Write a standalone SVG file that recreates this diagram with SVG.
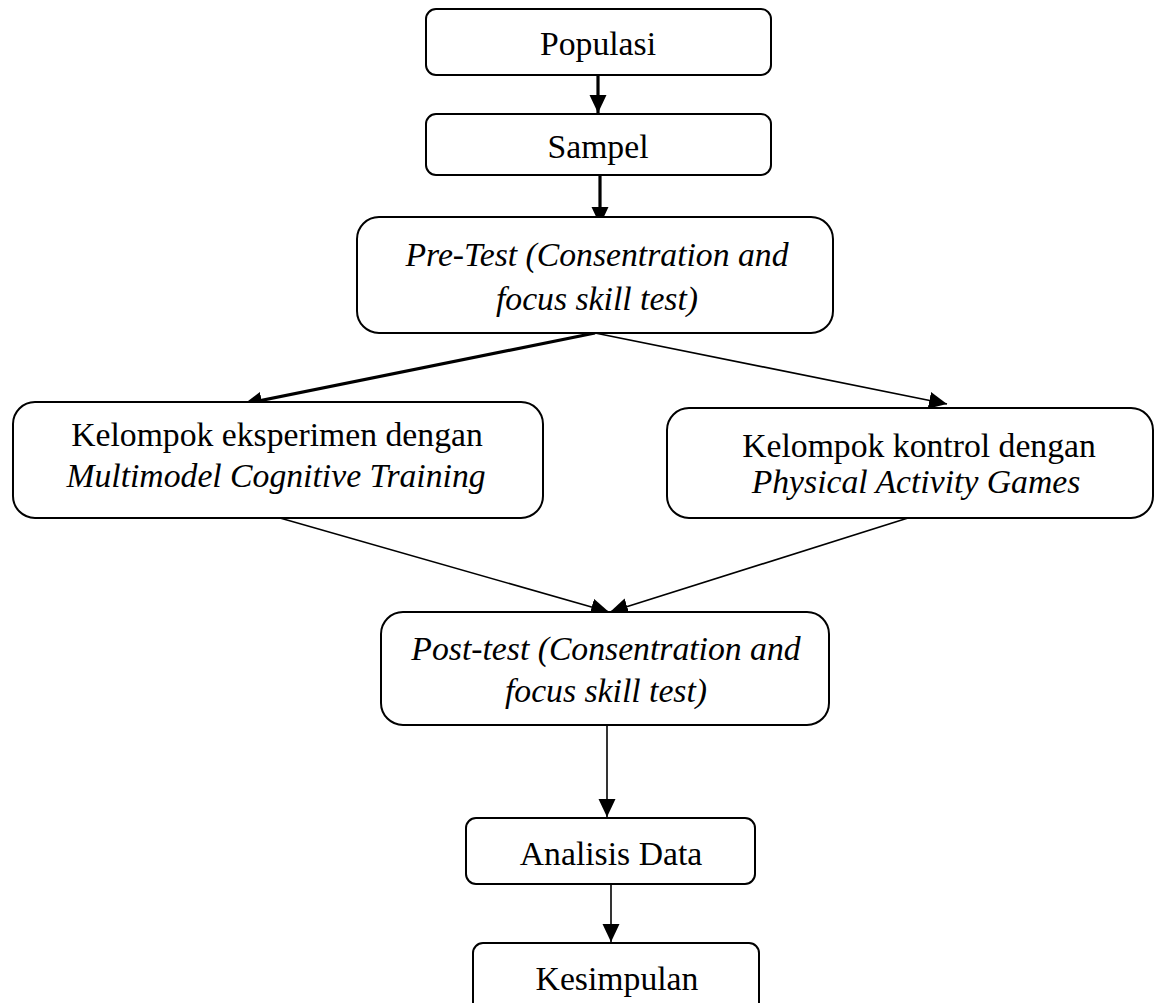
<svg xmlns="http://www.w3.org/2000/svg" width="1157" height="1003" viewBox="0 0 1157 1003">
<style>
  .box { fill: #ffffff; stroke: #000000; stroke-width: 2; }
  .t { font-family: "Liberation Serif", "Times New Roman", serif; font-size: 33.7px; fill: #000000; text-anchor: middle; }
  .i { font-style: italic; }
  .thick { stroke: #000000; stroke-width: 3.2; fill: none; }
  .thin { stroke: #000000; stroke-width: 1.6; fill: none; }
</style>
<defs>
  <marker id="ah" markerUnits="userSpaceOnUse" markerWidth="20" markerHeight="20" refX="18" refY="8.5" orient="auto">
    <path d="M0,0 L18,8.5 L0,17 z" fill="#000000"/>
  </marker>
</defs>
<rect width="1157" height="1003" fill="#ffffff"/>
<g id="connectors">
  <line class="thick" x1="598" y1="75" x2="598" y2="113" marker-end="url(#ah)"/>
  <line class="thick" x1="600" y1="175" x2="600" y2="225" marker-end="url(#ah)"/>
  <line class="thick" x1="595" y1="333" x2="244" y2="404" marker-end="url(#ah)"/>
  <line class="thin" x1="595" y1="333" x2="947" y2="404" marker-end="url(#ah)"/>
  <line class="thin" x1="280" y1="518" x2="609" y2="612" marker-end="url(#ah)"/>
  <line class="thin" x1="908" y1="518" x2="610" y2="612" marker-end="url(#ah)"/>
  <line class="thin" x1="607" y1="725" x2="607" y2="817" marker-end="url(#ah)"/>
  <line class="thin" x1="611" y1="884" x2="611" y2="942" marker-end="url(#ah)"/>
</g>
<g id="populasi">
  <rect class="box" x="426" y="9" width="345" height="66" rx="10"/>
  <text class="t" x="598" y="55">Populasi</text>
</g>
<g id="sampel">
  <rect class="box" x="426" y="114" width="345" height="61" rx="10"/>
  <text class="t" x="598" y="158">Sampel</text>
</g>
<g id="pretest">
  <rect class="box" x="357" y="217" width="476" height="116" rx="22"/>
  <text class="t i" x="597" y="266">Pre-Test (Consentration and</text>
  <text class="t i" x="597" y="310">focus skill test)</text>
</g>
<g id="eksperimen">
  <rect class="box" x="13" y="402" width="530" height="116" rx="22"/>
  <text class="t" x="277" y="446">Kelompok eksperimen dengan</text>
  <text class="t i" x="276" y="487">Multimodel Cognitive Training</text>
</g>
<g id="kontrol">
  <rect class="box" x="667" y="408" width="486" height="110" rx="22"/>
  <text class="t" x="919" y="457">Kelompok kontrol dengan</text>
  <text class="t i" x="916" y="493">Physical Activity Games</text>
</g>
<g id="posttest">
  <rect class="box" x="381" y="612" width="448" height="113" rx="22"/>
  <text class="t i" x="606" y="660">Post-test (Consentration and</text>
  <text class="t i" x="606" y="702">focus skill test)</text>
</g>
<g id="analisis">
  <rect class="box" x="466" y="818" width="289" height="66" rx="10"/>
  <text class="t" x="611" y="865">Analisis Data</text>
</g>
<g id="kesimpulan">
  <rect class="box" x="473" y="943" width="286" height="70" rx="10"/>
  <text class="t" x="617" y="990">Kesimpulan</text>
</g>
</svg>
